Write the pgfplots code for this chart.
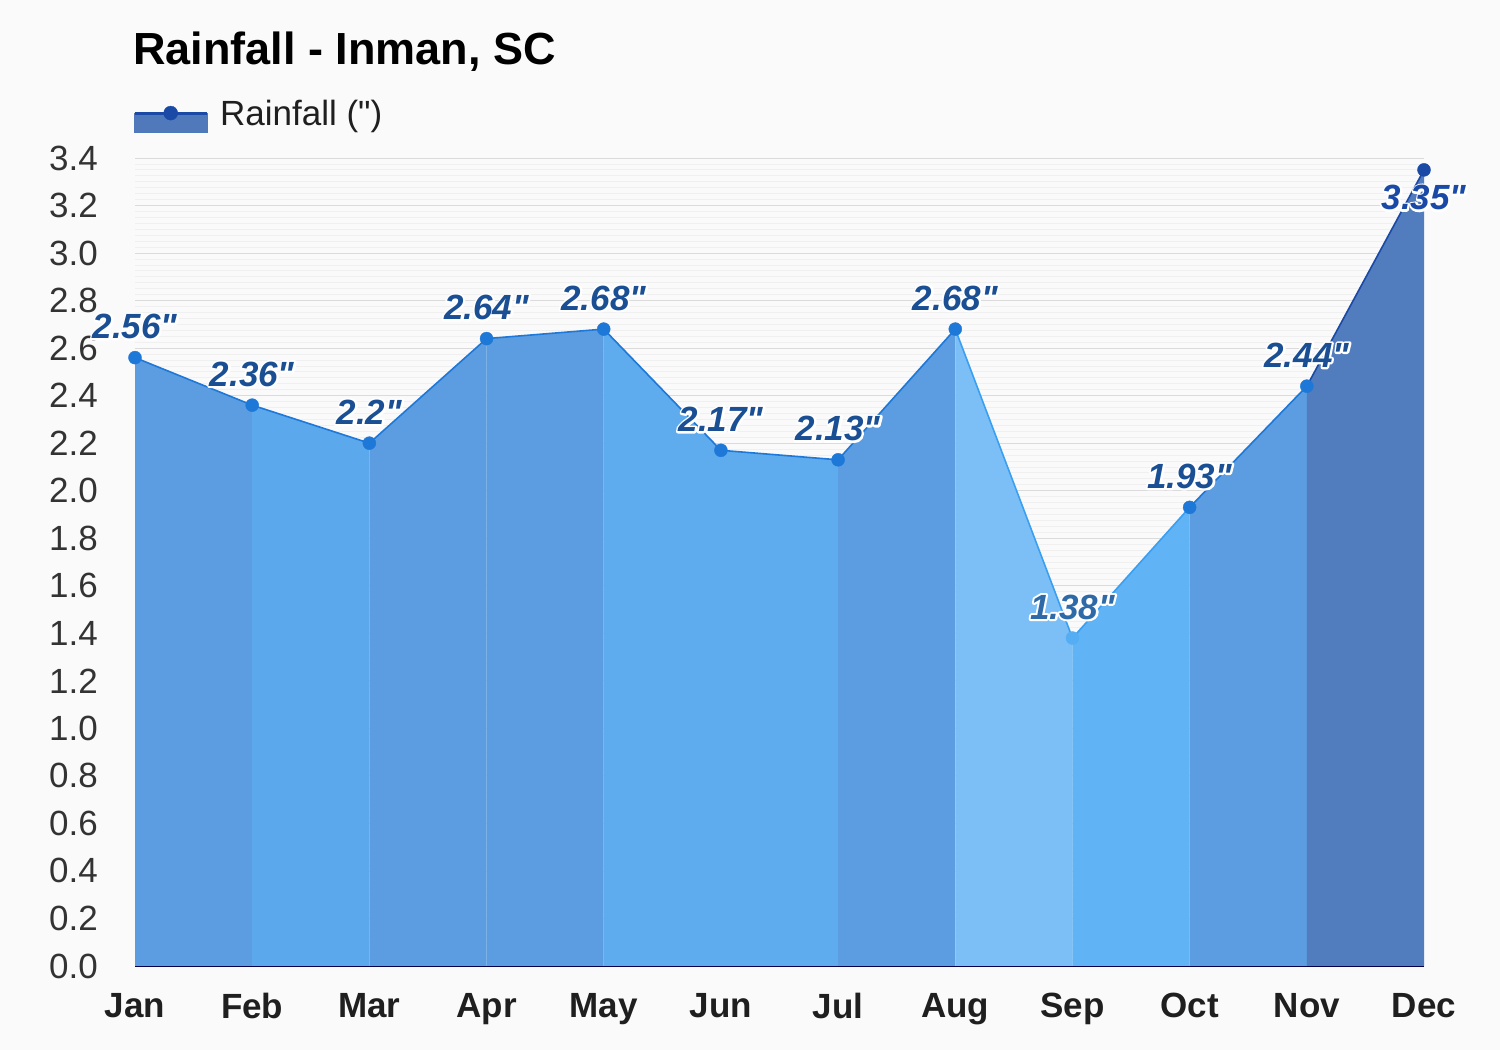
\documentclass[border=0pt]{standalone}
\usepackage{fontspec}
\setmainfont{Liberation Sans}[Ligatures=TeXOff]
\usepackage{pgfplots}
\pgfplotsset{compat=1.18}
\definecolor{cA}{HTML}{5B9DE0}
\definecolor{cB}{HTML}{5CA8EC}
\definecolor{cC}{HTML}{5EABEE}
\definecolor{cD}{HTML}{7CBFF6}
\definecolor{cE}{HTML}{60B4F6}
\definecolor{cF}{HTML}{517CBD}
\definecolor{lineblue}{HTML}{1E78D8}
\definecolor{lightline}{HTML}{3A9FF0}
\definecolor{navy}{HTML}{1A4AA5}
\definecolor{labblue}{HTML}{1A4F94}
\definecolor{labsep}{HTML}{2F6AA8}
\definecolor{txt}{HTML}{333333}
\definecolor{legfill}{HTML}{5079BC}
\newcommand\halo[1]{\setbox0\hbox{#1}%
 \rlap{\color{white}\special{pdf:literal direct 2 Tr 4 w 1 j}\copy0\special{pdf:literal direct 0 Tr}}%
 \box0}
\begin{document}
\begin{tikzpicture}
\path[use as bounding box, fill=white!98!black] (0,0) rectangle (1500pt,1050pt);
\node[anchor=base west, inner sep=0pt, font=\fontsize{45}{50}\selectfont\bfseries, text=black] at (133pt,985pt) {Rainfall - Inman, SC};
\begin{axis}[
  at={(135pt,84pt)}, anchor=south west,
  scale only axis, width=1289pt, height=808pt,
  xmin=0, xmax=11, ymin=0, ymax=3.4,
  axis line style={draw=none},
  xtick={0,1,2,3,4,5,6,7,8,9,10,11},
  xticklabels={Jan,Feb,Mar,Apr,May,Jun,Jul,Aug,Sep,Oct,Nov,Dec},
  ytick={0,0.2,0.4,0.6,0.8,1.0,1.2,1.4,1.6,1.8,2.0,2.2,2.4,2.6,2.8,3.0,3.2,3.4},
  minor y tick num=7,
  major tick length=0pt, minor tick length=0pt,
  ymajorgrids, yminorgrids,
  major grid style={draw=black!14, line width=0.8pt},
  minor grid style={draw=black!6, line width=0.8pt},
  /pgf/number format/assume math mode=true,
  yticklabel style={/pgf/number format/.cd, fixed, fixed zerofill, precision=1, /tikz/.cd,
     anchor=east, inner sep=0pt, xshift=-37pt, font=\fontsize{35}{40}\selectfont, text=txt},
  xticklabel style={anchor=north, inner sep=0pt, yshift=-27pt, font=\fontsize{35}{40}\selectfont\bfseries, text=black!88},
  legend style={at={(rel axis cs:0,1)}, anchor=west, xshift=-2pt, yshift=42pt, draw=none, fill=none, inner sep=0pt,
     font=\fontsize{35}{40}\selectfont, text=black!88, nodes={inner sep=0pt}},
  legend image code/.code={
     \fill[legfill] (0pt,-19pt) rectangle (72pt,0pt);
     \draw[navy, line width=3pt] (0pt,0pt) -- (72pt,0pt);
     \fill[navy] (36pt,0pt) circle (7pt);
  },
  /tikz/every odd column/.style={column sep=12pt},
  clip=false,
]
\addlegendimage{legfill}
\addlegendentry{Rainfall (")}
\addplot[draw=none, fill=cA, forget plot] coordinates {(0,2.56) (1,2.36)} \closedcycle;
\addplot[draw=none, fill=cB, forget plot] coordinates {(1,2.36) (2,2.2)} \closedcycle;
\addplot[draw=none, fill=cA, forget plot] coordinates {(2,2.2) (3,2.64)} \closedcycle;
\addplot[draw=none, fill=cA, forget plot] coordinates {(3,2.64) (4,2.68)} \closedcycle;
\addplot[draw=none, fill=cC, forget plot] coordinates {(4,2.68) (5,2.17)} \closedcycle;
\addplot[draw=none, fill=cC, forget plot] coordinates {(5,2.17) (6,2.13)} \closedcycle;
\addplot[draw=none, fill=cA, forget plot] coordinates {(6,2.13) (7,2.68)} \closedcycle;
\addplot[draw=none, fill=cD, forget plot] coordinates {(7,2.68) (8,1.38)} \closedcycle;
\addplot[draw=none, fill=cE, forget plot] coordinates {(8,1.38) (9,1.93)} \closedcycle;
\addplot[draw=none, fill=cA, forget plot] coordinates {(9,1.93) (10,2.44)} \closedcycle;
\addplot[draw=none, fill=cF, forget plot] coordinates {(10,2.44) (11,3.35)} \closedcycle;
\addplot[lineblue, line width=1.6pt, mark=none, forget plot] coordinates {(0,2.56) (1,2.36) (2,2.2) (3,2.64) (4,2.68) (5,2.17) (6,2.13) (7,2.68)};
\addplot[lightline, line width=1.6pt, mark=none, forget plot] coordinates {(7,2.68) (8,1.38) (9,1.93)};
\addplot[lineblue, line width=1.6pt, mark=none, forget plot] coordinates {(9,1.93) (10,2.44)};
\addplot[navy, line width=1.6pt, mark=none, forget plot] coordinates {(10,2.44) (11,3.35)};
\draw[black!70!blue, line width=1pt] (axis cs:0,0) -- (axis cs:11,0);
\addplot[only marks, mark=*, mark size=6.5pt, lineblue, forget plot,
  nodes near coords={\halo{\pgfmathprintnumber[assume math mode=true]{\pgfplotspointmeta}"}},
  nodes near coords style={anchor=center, yshift=31pt, inner sep=0pt, text=labblue, font=\fontsize{35}{40}\selectfont\bfseries\itshape}]
  coordinates {(0,2.56) (1,2.36) (2,2.2) (3,2.64) (4,2.68) (5,2.17) (6,2.13) (7,2.68) (9,1.93) (10,2.44)};
\addplot[only marks, mark=*, mark size=6.5pt, color=cE!70!lightline, forget plot,
  nodes near coords={\halo{\pgfmathprintnumber[assume math mode=true]{\pgfplotspointmeta}"}},
  nodes near coords style={anchor=center, yshift=31pt, inner sep=0pt, text=labsep, font=\fontsize{35}{40}\selectfont\bfseries\itshape}]
  coordinates {(8,1.38)};
\addplot[only marks, mark=*, mark size=6.5pt, navy, forget plot,
  nodes near coords={\halo{\pgfmathprintnumber[assume math mode=true]{\pgfplotspointmeta}"}},
  nodes near coords style={anchor=center, yshift=-28pt, inner sep=0pt, text=navy, font=\fontsize{35}{40}\selectfont\bfseries\itshape}]
  coordinates {(11,3.35)};
\end{axis}
\end{tikzpicture}
\end{document}
